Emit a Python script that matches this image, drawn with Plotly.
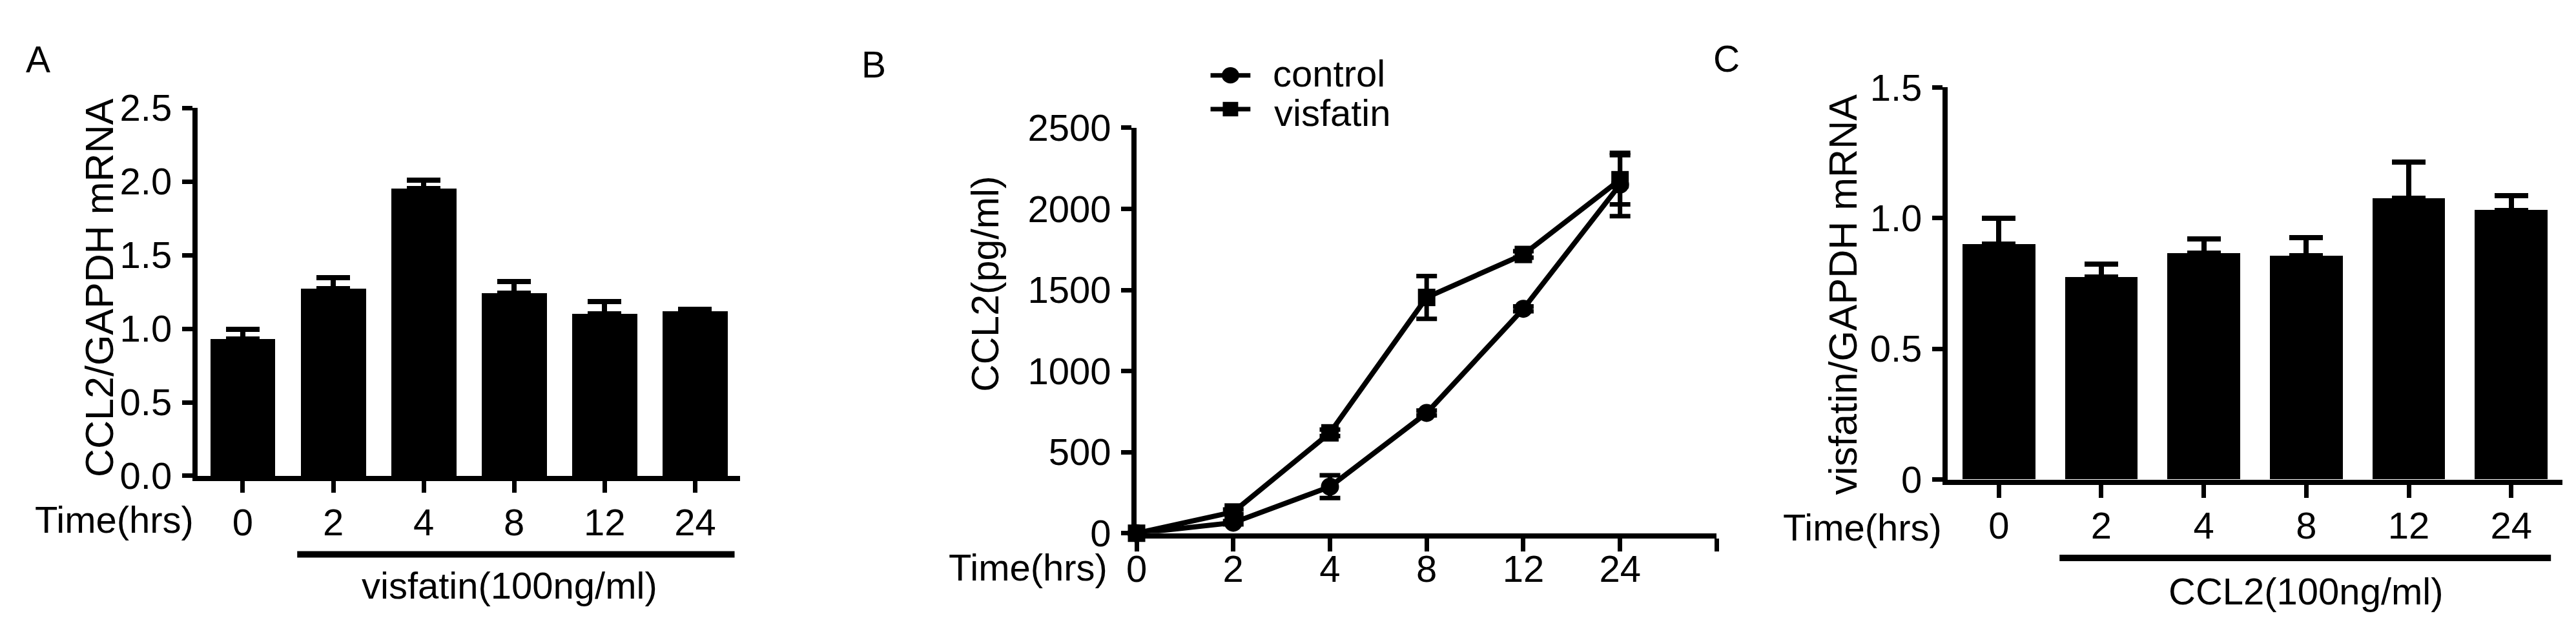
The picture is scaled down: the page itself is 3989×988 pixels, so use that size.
import plotly.graph_objects as go

# Panel A: CCL2 mRNA after visfatin
times = ["0", "2", "4", "8", "12", "24"]
ccl2_mrna = [0.93, 1.27, 1.95, 1.24, 1.10, 1.12]
ccl2_mrna_err = [0.065, 0.075, 0.06, 0.08, 0.085, 0.01]

# Panel B: CCL2 secretion (pg/ml)
control_ccl2 = [0, 65, 287, 742, 1384, 2150]
control_err = [0, 10, 70, 15, 15, 195]
visfatin_ccl2 = [0, 131, 619, 1454, 1719, 2180]
visfatin_err = [0, 15, 20, 132, 20, 152]

# Panel C: visfatin mRNA after CCL2
visfatin_mrna = [0.90, 0.775, 0.865, 0.855, 1.075, 1.03]
visfatin_mrna_err = [0.10, 0.05, 0.055, 0.07, 0.14, 0.055]

W, H = 3989, 988
FONT = "Arial, Liberation Sans, sans-serif"


def px_x(v):
    return v / W


def px_y(v):
    return 1 - v / H


fig = go.Figure()

# A
fig.add_trace(go.Bar(
    x=times, y=ccl2_mrna, width=0.72,
    marker=dict(color="black", line=dict(width=0)),
    error_y=dict(type="data", array=ccl2_mrna_err, arrayminus=[0] * len(times),
                 symmetric=False, color="black", thickness=8, width=26),
    xaxis="x", yaxis="y", showlegend=False,
))

# B
pos = list(range(len(times)))
fig.add_trace(go.Scatter(
    x=pos, y=control_ccl2, name="control", mode="lines+markers",
    line=dict(color="black", width=8),
    marker=dict(symbol="circle", size=28, color="black"),
    error_y=dict(type="data", array=control_err, color="black", thickness=7, width=16),
    xaxis="x2", yaxis="y2", cliponaxis=False, showlegend=False,
))
fig.add_trace(go.Scatter(
    x=pos, y=visfatin_ccl2, name="visfatin", mode="lines+markers",
    line=dict(color="black", width=8),
    marker=dict(symbol="square", size=27, color="black"),
    error_y=dict(type="data", array=visfatin_err, color="black", thickness=7, width=16),
    xaxis="x2", yaxis="y2", cliponaxis=False, showlegend=False,
))

# C
fig.add_trace(go.Bar(
    x=times, y=visfatin_mrna, width=0.71,
    marker=dict(color="black", line=dict(width=0)),
    error_y=dict(type="data", array=visfatin_mrna_err, arrayminus=[0] * len(times),
                 symmetric=False, color="black", thickness=8, width=26),
    xaxis="x3", yaxis="y3", showlegend=False,
))

axis_common = dict(
    showline=True, linecolor="black", linewidth=8, showgrid=False, zeroline=False,
    ticks="outside", tickcolor="black", tickwidth=7,
    tickfont=dict(family=FONT, size=58, color="black"),
    fixedrange=True,
)

fig.update_layout(
    width=W, height=H, autosize=False,
    margin=dict(l=0, r=0, t=0, b=0),
    paper_bgcolor="white", plot_bgcolor="white",
    font=dict(family=FONT, color="black"),
    bargap=0, showlegend=False,
    xaxis=dict(axis_common, domain=[px_x(283), px_x(1127)], anchor="y",
               type="category", range=[-0.5, 5.5], ticklen=18, ticklabelstandoff=-4),
    yaxis=dict(axis_common, domain=[px_y(745), px_y(135)], anchor="x",
               range=[0, 2.5], tickvals=[0, 0.5, 1.0, 1.5, 2.0, 2.5],
               tickformat=".1f", ticklen=16, ticklabelstandoff=4),
    xaxis2=dict(axis_common, domain=[px_x(1743), px_x(2645)], anchor="y2",
                range=[0, 6], tickvals=list(range(len(times) + 1)),
                ticktext=times + [""], ticklen=20, ticklabelstandoff=-22),
    yaxis2=dict(axis_common, domain=[px_y(840), px_y(168)], anchor="x2",
                range=[0, 2500], tickvals=[0, 500, 1000, 1500, 2000, 2500],
                ticklen=16, ticklabelstandoff=4),
    xaxis3=dict(axis_common, domain=[px_x(3004), px_x(3960)], anchor="y3",
                type="category", range=[-0.5, 5.5], ticklen=20, ticklabelstandoff=-6),
    yaxis3=dict(axis_common, domain=[px_y(751), px_y(101)], anchor="x3",
                range=[0, 1.5], tickvals=[0, 0.5, 1.0, 1.5],
                ticktext=["0", "0.5", "1.0", "1.5"], ticklen=16, ticklabelstandoff=4),
)

notes = [
    ("A", 35, 55, 57, "center", 0),
    ("B", 1334, 63, 57, "center", 0),
    ("C", 2660, 54, 57, "center", 0),
    ("CCL2/GAPDH mRNA", 130, 433, 61, "center", -90),
    ("CCL2(pg/ml)", 1508, 427, 59, "center", -90),
    ("visfatin/GAPDH mRNA", 2841, 444, 61, "center", -90),
    ("Time(hrs)", 279, 817, 58, "right", 0),
    ("Time(hrs)", 1700, 897, 58, "right", 0),
    ("Time(hrs)", 2997, 830, 58, "right", 0),
    ("visfatin(100ng/ml)", 768, 926, 58, "center", 0),
    ("CCL2(100ng/ml)", 3561, 936, 58, "center", 0),
    ("control", 1953, 78, 58, "left", 0),
    ("visfatin", 1955, 143, 58, "left", 0),
]
for text, x, y, size, anchor, angle in notes:
    fig.add_annotation(
        text=text, x=px_x(x), y=px_y(y), xref="paper", yref="paper",
        xanchor=anchor, yanchor="middle", showarrow=False, textangle=angle,
        font=dict(family=FONT, size=size, color="black"),
    )

# treatment underlines
for x0, x1, y in [(438, 1118, 875), (3178, 3942, 881)]:
    fig.add_shape(type="line", xref="paper", yref="paper",
                  x0=px_x(x0), x1=px_x(x1), y0=px_y(y), y1=px_y(y),
                  line=dict(color="black", width=10))

# legend glyphs for panel B
for y, symbol in [(81, "circle"), (137, "rect")]:
    fig.add_shape(type="line", xref="paper", yref="paper",
                  x0=px_x(1858), x1=px_x(1920), y0=px_y(y), y1=px_y(y),
                  line=dict(color="black", width=7))
    r = 13.5 if symbol == "circle" else 12
    fig.add_shape(type=symbol, xref="paper", yref="paper",
                  x0=px_x(1889 - r), x1=px_x(1889 + r),
                  y0=px_y(y - r), y1=px_y(y + r),
                  fillcolor="black", line=dict(color="black", width=0))

fig.write_html("out.html")
